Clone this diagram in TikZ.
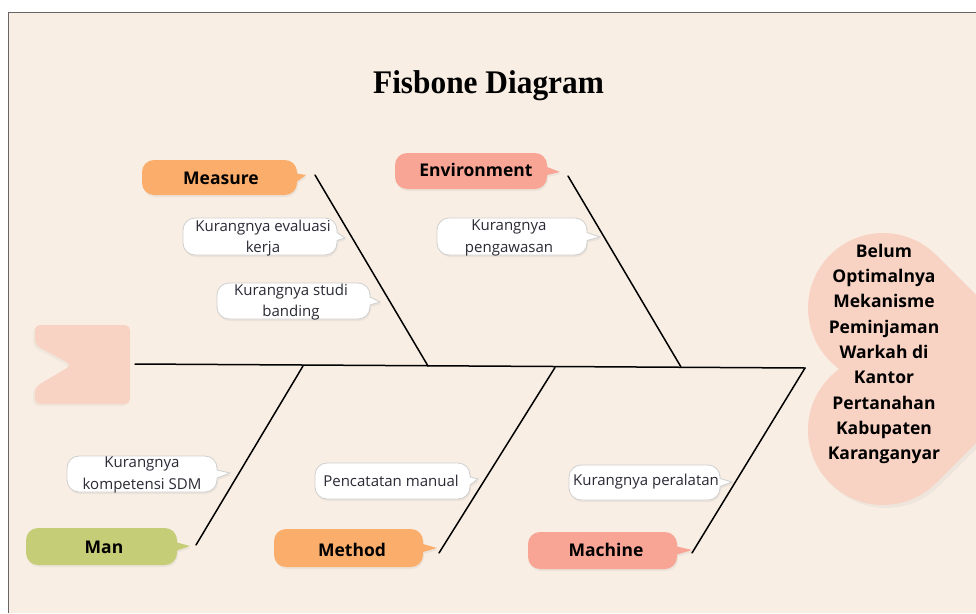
\documentclass[tikz,border=0pt]{standalone}
\usepackage{fontspec}
\setmainfont{Open Sans}
\newfontfamily\titlefont{Liberation Serif}
\usetikzlibrary{shadows}
\definecolor{bg}{HTML}{F8EEE4}
\definecolor{orng}{HTML}{FBAE6B}
\definecolor{salmon}{HTML}{F9A596}
\definecolor{olive}{HTML}{C5CE77}
\definecolor{peach}{HTML}{F8D2C2}
\definecolor{bubline}{HTML}{CFCFCF}
\definecolor{txt}{HTML}{2A2A35}
\newcommand\bub[7]{%
 \path[#7] ({#1+12},{-#2}) -- ({#3-12},{-#2}) arc[start angle=90,end angle=0,radius=12]
 -- ({#3},{-(#2+#4)/2+4}) -- ({#5},{-#6}) -- ({#3},{-(#2+#4)/2-4})
 -- ({#3},{-#4+12}) arc[start angle=0,end angle=-90,radius=12]
 -- ({#1+12},{-#4}) arc[start angle=270,end angle=180,radius=12]
 -- ({#1},{-#2-12}) arc[start angle=180,end angle=90,radius=12] -- cycle;}
\tikzset{
 shade/.style={drop shadow={shadow xshift=1pt,shadow yshift=-2pt,opacity=0.1}},
 catbox/.style={fill=#1,shade},
 causebox/.style={fill=white,draw=bubline,line width=0.8pt,shade},
 cattext/.style={font=\bfseries\fontsize{17.5}{21}\selectfont,text=black,inner sep=0pt},
 causetext/.style={font=\fontsize{15}{21.5}\selectfont,text=txt,align=center,inner sep=0pt},
 bone/.style={draw=black,line width=1.5pt,line cap=round}
}
\begin{document}
\begin{tikzpicture}[x=1pt,y=1pt]
\useasboundingbox (0,0) rectangle (976,-613);
\fill[white] (0,0) rectangle (976,-613);
\fill[bg] (8.5,-12.5) rectangle (976,-613);
\draw[gray!80!black,line width=1.5pt] (8.5,-613) -- (8.5,-12.5) -- (976,-12.5);

% title
\node[anchor=base,inner sep=0pt] (title) at (488.5,-93)
  {\titlefont\bfseries\fontsize{33}{40}\selectfont\scalebox{0.95}[1]{Fisbone Diagram}};

% head (heart)
\begin{scope}
\clip (8.5,-12.5) rectangle (976,-613);
\path[fill=peach,drop shadow={shadow xshift=3pt,shadow yshift=-3pt,opacity=0.08}]
  (839.4,-369) arc[start angle=234.4,end angle=45,radius=75]
  -- (1050,-369) -- (936,-483)
  arc[start angle=-45,end angle=-234.4,radius=75] -- cycle;
\end{scope}
\node[font=\bfseries\fontsize{17.5}{25.3}\selectfont,align=center,inner sep=0pt] (effect) at (884,-354)
  {Belum\\Optimalnya\\Mekanisme\\Peminjaman\\Warkah di\\Kantor\\Pertanahan\\Kabupaten\\Karanganyar};

% tail
\path[fill=peach,rounded corners=5,drop shadow={shadow xshift=-2pt,shadow yshift=-2pt,opacity=0.07}]
  (35,-325) -- (130,-325) -- (130,-404) -- (35,-404) -- (35,-387) -- (72,-365) -- (35,-345) -- cycle;

% spine and bones
\coordinate (sL) at (135,-364);
\coordinate (sR) at (805,-368);
\coordinate (jMeasure) at (428,-366);
\coordinate (jEnv) at (681,-367);
\coordinate (jMan) at (303,-366);
\coordinate (jMethod) at (555,-367.5);
\coordinate (eMeasure) at (315,-175);
\coordinate (eEnv) at (568,-176);
\coordinate (eMan) at (196,-545);
\coordinate (eMethod) at (439,-553);
\coordinate (eMachine) at (692,-553);
\draw[bone] (sL) -- (sR);
\draw[bone] (eMeasure) -- (jMeasure);
\draw[bone] (eEnv) -- (jEnv);
\draw[bone] (jMan) -- (eMan);
\draw[bone] (jMethod) -- (eMethod);
\draw[bone] (sR) -- (eMachine);

% category labels
\bub{142}{160}{297}{195}{306}{175}{catbox=orng}
\node[cattext] (measure) at (221,-178) {Measure};
\bub{395}{153}{547}{189}{560}{172}{catbox=salmon}
\node[cattext] (env) at (476,-170) {Environment};
\bub{26}{528}{177}{565}{190}{546}{catbox=olive}
\node[cattext] (man) at (104,-547) {Man};
\bub{274}{529}{423}{567}{437}{548}{catbox=orng}
\node[cattext] (method) at (352,-550) {Method};
\bub{528}{532}{677}{569}{692}{550}{catbox=salmon}
\node[cattext] (machine) at (606,-550) {Machine};

% causes
\bub{183}{218}{337}{255}{345}{238}{causebox}
\node[causetext] (c1) at (263,-238) {Kurangnya evaluasi\\kerja};
\bub{217}{283}{370}{319}{380}{302}{causebox}
\node[causetext] (c2) at (291,-302) {Kurangnya studi\\banding};
\bub{437}{218}{587}{255}{600}{237}{causebox}
\node[causetext] (c3) at (509,-238) {Kurangnya\\pengawasan};
\bub{67}{456}{217}{492}{230}{473}{causebox}
\node[causetext] (c4) at (142,-475) {Kurangnya\\kompetensi SDM};
\bub{315}{463}{470}{499}{478}{479}{causebox}
\node[causetext] (c5) at (391,-481) {Pencatatan manual};
\bub{569}{465}{720}{500}{732}{482}{causebox}
\node[causetext] (c6) at (646,-482) {Kurangnya peralatan};
\end{tikzpicture}
\end{document}
